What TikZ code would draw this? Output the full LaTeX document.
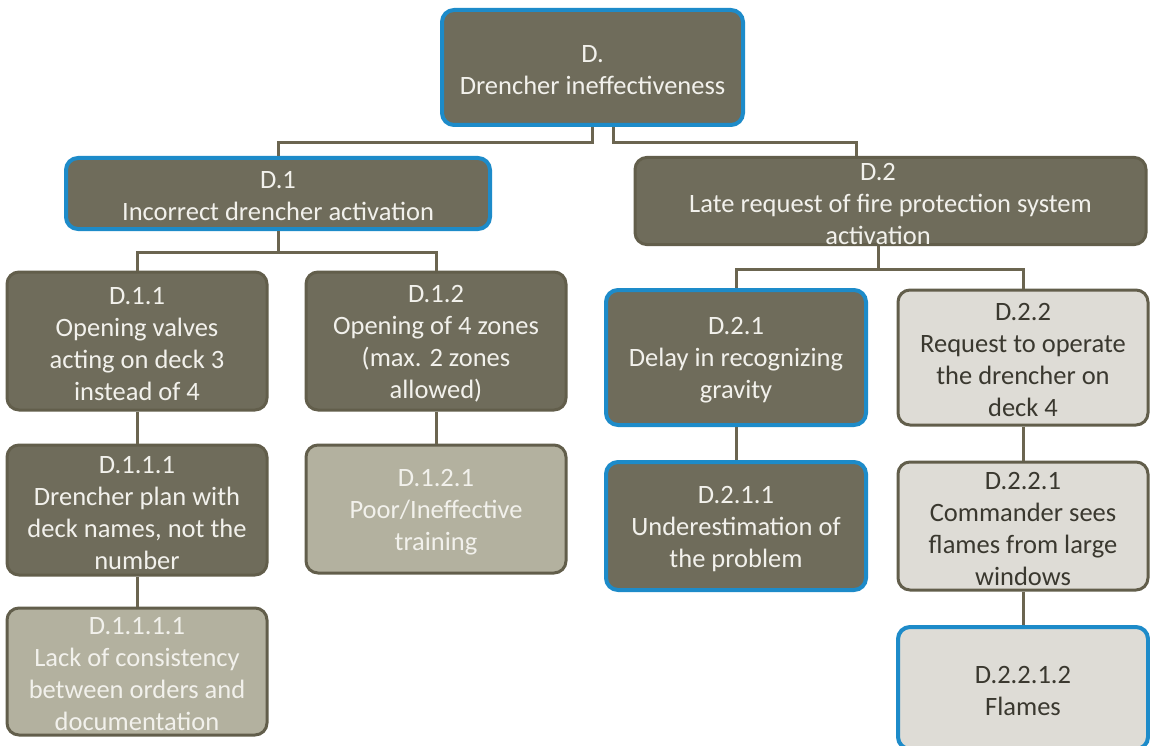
\documentclass[tikz,border=0pt]{standalone}
\usepackage{fontspec}
\setmainfont{Carlito}
\definecolor{darkfill}{HTML}{6F6C5B}
\definecolor{darkline}{HTML}{625E4B}
\definecolor{blueline}{HTML}{1D8BC9}
\definecolor{olivefill}{HTML}{B3B19F}
\definecolor{greyfill}{HTML}{DEDCD6}
\definecolor{conncol}{HTML}{6B6550}
\definecolor{lighttext}{HTML}{F2F1EC}
\definecolor{darktext}{HTML}{3A382F}
\newcommand{\topstrut}{\rule{0pt}{23pt}}
\tikzset{
  box/.style={rounded corners=12pt, align=center, inner sep=0pt,
    font=\fontsize{26.5}{32}\selectfont, line width=3pt},
  dark/.style={box, fill=darkfill, draw=darkline, text=lighttext},
  darkblue/.style={dark, draw=blueline, line width=4pt},
  olive/.style={box, fill=olivefill, draw=darkline, text=lighttext},
  grey/.style={box, fill=greyfill, draw=darkline, text=darktext},
  greyblue/.style={grey, draw=blueline, line width=4pt},
  conn/.style={draw=conncol, line width=3pt},
}
\begin{document}
\begin{tikzpicture}[x=1pt,y=-1pt]
\clip (0,0) rectangle (1150,746);
\fill[white] (0,0) rectangle (1150,746);

\node[darkblue, minimum width=301pt, minimum height=115pt] (D) at (592.5,67.5) {\topstrut D.\\Drencher ineffectiveness};
\node[darkblue, minimum width=424pt, minimum height=71pt] (D1) at (278,193.5) {\topstrut D.1\\Incorrect drencher activation};
\node[dark, minimum width=511pt, minimum height=86pt] (D2) at (890.5,201) {\topstrut D.2\hspace*{25pt}\\Late request of fire protection system\hspace*{25pt}\\activation\hspace*{25pt}};
\node[dark, minimum width=260pt, minimum height=138pt] (D11) at (137,341) {\topstrut D.1.1\\Opening valves\\acting on deck 3\\instead of 4};
\node[dark, minimum width=260pt, minimum height=138pt] (D12) at (436,341) {\topstrut D.1.2\\Opening of 4 zones\\(max. 2 zones\\allowed)};
\node[dark, minimum width=260pt, minimum height=130pt] (D111) at (137,510) {\topstrut D.1.1.1\\Drencher plan with\\deck names, not the\\number};
\node[olive, minimum width=260pt, minimum height=128pt] (D121) at (436,509) {\topstrut D.1.2.1\\Poor/Ineffective\\training};
\node[olive, minimum width=260pt, minimum height=127pt] (D1111) at (137,671.5) {\topstrut D.1.1.1.1\\Lack of consistency\\between orders and\\documentation};
\node[darkblue, minimum width=260pt, minimum height=135pt] (D21) at (736,357.5) {\topstrut D.2.1\\Delay in recognizing\\gravity};
\node[grey, minimum width=250pt, minimum height=135pt] (D22) at (1023,357.5) {\topstrut D.2.2\\Request to operate\\the drencher on\\deck 4};
\node[darkblue, minimum width=260pt, minimum height=128pt] (D211) at (736,526) {\topstrut D.2.1.1\\Underestimation of\\the problem};
\node[grey, minimum width=250pt, minimum height=128pt] (D221) at (1023,526) {\topstrut D.2.2.1\\Commander sees\\flames from large\\windows};
\node[greyblue, minimum width=250pt, minimum height=122pt] (D2212) at (1023,688) {\topstrut D.2.2.1.2\\Flames};

\draw[conn] (D.south) -- ++(0,16) -| (D1.north);
\draw[conn] ([xshift=20.5pt]D.south) -- ++(0,16) -| ([xshift=-34.5pt]D2.north);
\draw[conn] (D1.south) -- ++(0,21) -| (D11.north);
\draw[conn] (D1.south) -- ++(0,21) -| (D12.north);
\draw[conn] ([xshift=-12.5pt]D2.south) -- ++(0,23) -| (D21.north);
\draw[conn] ([xshift=-12.5pt]D2.south) -- ++(0,23) -| (D22.north);
\draw[conn] (D11.south) -- (D111.north);
\draw[conn] (D12.south) -- (D121.north);
\draw[conn] (D111.south) -- (D1111.north);
\draw[conn] (D21.south) -- (D211.north);
\draw[conn] (D22.south) -- (D221.north);
\draw[conn] (D221.south) -- (D2212.north);
\end{tikzpicture}
\end{document}
